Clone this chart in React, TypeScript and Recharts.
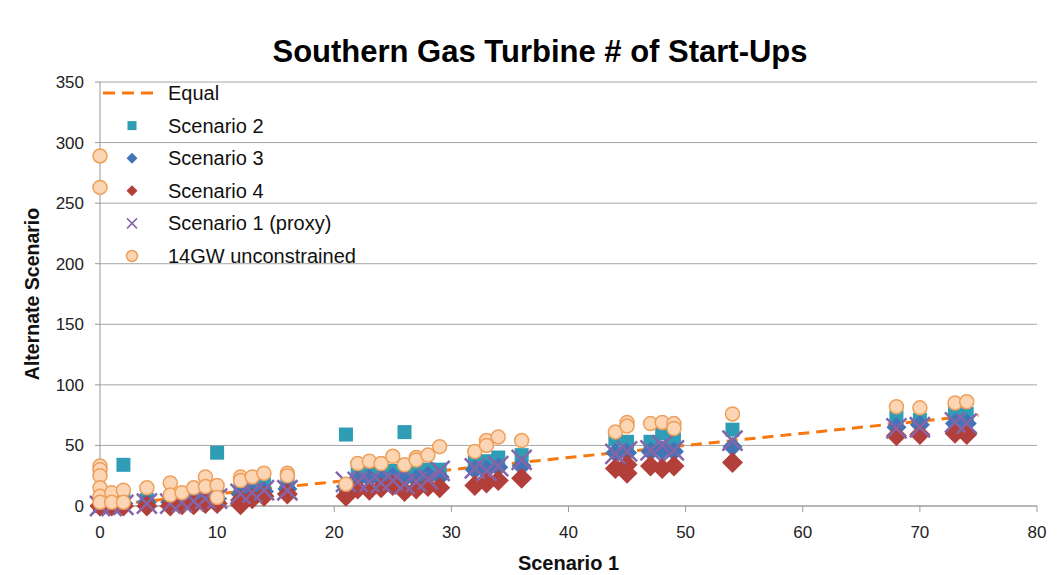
import React from "react";
import {
  ScatterChart,
  Scatter,
  XAxis,
  YAxis,
  CartesianGrid,
  Legend,
  Label,
} from "recharts";

type Pt = [number, number];

const FONT = '"Liberation Sans", Arial, sans-serif';

const xTicks = [0, 10, 20, 30, 40, 50, 60, 70, 80];
const yTicks = [0, 50, 100, 150, 200, 250, 300, 350];

// [Scenario 1, alternate scenario] start-ups per unit
const equalLine: Pt[] = [[0, 0], [75, 75]];

const scenario2: Pt[] = [
  [0, 0], [0, 2], [1, 2], [2, 34], [2, 5], [4, 5], [6, 6], [7, 6], [8, 8], [9, 9],
  [10, 44], [10, 8], [12, 16], [13, 17], [14, 18], [16, 20],
  [21, 59], [21, 14], [22, 27], [23, 28], [24, 28], [25, 29], [26, 61], [26, 27],
  [27, 28], [28, 30], [29, 30], [32, 36], [33, 37], [34, 40], [36, 42],
  [44, 55], [45, 53], [47, 53], [48, 60], [49, 55], [54, 63],
  [68, 73], [70, 71], [73, 77], [74, 76],
];

const scenario3: Pt[] = [
  [0, 0], [1, 2], [2, 2], [4, 3], [6, 3], [7, 4], [8, 5], [9, 5], [10, 6],
  [12, 10], [13, 11], [14, 12], [16, 14],
  [21, 16], [22, 22], [23, 23], [24, 22], [25, 24], [26, 23], [27, 22], [28, 25], [29, 24],
  [32, 30], [33, 30], [34, 32], [36, 33],
  [44, 44], [45, 44], [47, 45], [48, 46], [49, 45], [54, 49],
  [68, 65], [70, 67], [73, 68], [74, 68],
];

const scenario4: Pt[] = [
  [0, 0], [1, 0], [2, 0], [4, 0], [6, 0], [7, 1], [8, 1], [9, 2], [10, 2],
  [12, 1], [12, 5], [13, 6], [14, 8], [16, 10],
  [21, 8], [22, 14], [23, 13], [24, 15], [25, 17], [26, 12], [27, 14], [28, 16], [29, 15],
  [32, 17], [33, 19], [34, 21], [36, 23],
  [44, 31], [45, 27], [45, 34], [47, 33], [48, 31], [49, 33], [54, 36],
  [68, 58], [70, 59], [73, 60], [74, 59],
];

const scenario1Proxy: Pt[] = [
  [0, 0], [1, 0], [2, 1], [4, 2], [6, 2], [7, 3], [8, 4], [9, 6], [10, 6],
  [12, 10], [13, 11], [14, 13], [16, 13],
  [21, 20], [22, 20], [23, 20], [24, 19], [25, 21], [26, 18], [27, 20], [28, 22], [29, 29],
  [32, 31], [33, 29], [34, 33], [36, 38],
  [44, 43], [45, 45], [47, 46], [48, 50], [49, 46], [54, 54],
  [68, 64], [70, 65], [73, 69], [74, 68],
];

const unconstrained14GW: Pt[] = [
  [0, 289], [0, 263], [0, 33], [0, 30], [0, 25], [0, 15], [0, 8], [0, 3],
  [1, 11], [1, 3], [2, 13], [2, 3], [4, 15], [6, 19], [6, 9], [7, 11], [8, 15],
  [9, 24], [9, 16], [10, 17], [10, 7], [12, 24], [12, 21], [13, 24], [14, 27],
  [16, 27], [16, 25],
  [21, 18], [22, 35], [23, 37], [24, 35], [25, 41], [26, 34], [27, 40], [27, 38],
  [28, 42], [29, 49], [32, 45], [33, 54], [33, 50], [34, 57], [36, 54],
  [44, 61], [45, 69], [45, 66], [47, 68], [48, 69], [49, 68], [49, 64], [54, 76],
  [68, 82], [70, 81], [73, 85], [74, 86],
];

const toPts = (arr: Pt[]) => arr.map(([x, y]) => ({ x, y }));

const COLORS = {
  equal: "#f7780f",
  s2: "#2f9db6",
  s3: "#4175b8",
  s4: "#b33f3a",
  s1: "#8466a8",
  gwFill: "#fcd5b5",
  gwStroke: "#eea05a",
  grid: "#a6a6a6",
};

const squareShape = (s: number, fill: string) => (p: any) => (
  <rect x={p.cx - s / 2} y={p.cy - s / 2} width={s} height={s} fill={fill} />
);

const diamondShape = (s: number, fill: string) => (p: any) => (
  <polygon
    points={`${p.cx},${p.cy - s / 2} ${p.cx + s / 2},${p.cy} ${p.cx},${p.cy + s / 2} ${p.cx - s / 2},${p.cy}`}
    fill={fill}
  />
);

const crossShape = (s: number, stroke: string, w: number) => (p: any) => (
  <path
    d={`M${p.cx - s / 2},${p.cy - s / 2}L${p.cx + s / 2},${p.cy + s / 2}M${p.cx + s / 2},${p.cy - s / 2}L${p.cx - s / 2},${p.cy + s / 2}`}
    stroke={stroke}
    strokeWidth={w}
    fill="none"
  />
);

const circleShape = (r: number) => (p: any) => (
  <circle
    cx={p.cx}
    cy={p.cy}
    r={r}
    fill={COLORS.gwFill}
    stroke={COLORS.gwStroke}
    strokeWidth={1.5}
  />
);

const legendNames = [
  "Equal",
  "Scenario 2",
  "Scenario 3",
  "Scenario 4",
  "Scenario 1 (proxy)",
  "14GW unconstrained",
];

const renderLegend = () => {
  const icons = [
    (y: number) => (
      <line x1={3} x2={53} y1={y} y2={y} stroke={COLORS.equal} strokeWidth={3} strokeDasharray="12 7" />
    ),
    (y: number) => squareShape(9, COLORS.s2)({ cx: 32, cy: y }),
    (y: number) => diamondShape(11, COLORS.s3)({ cx: 32, cy: y }),
    (y: number) => diamondShape(11, COLORS.s4)({ cx: 32, cy: y }),
    (y: number) => crossShape(10, COLORS.s1, 1.5)({ cx: 32, cy: y }),
    (y: number) => circleShape(5.5)({ cx: 32, cy: y }),
  ];
  return (
    <svg width={300} height={200}>
      {legendNames.map((name, i) => {
        const y = 17 + i * 32.6;
        return (
          <g key={name}>
            {icons[i](y)}
            <text
              x={68}
              y={y}
              dy="0.35em"
              fontSize={20}
              fontFamily={FONT}
              fill="#111"
            >
              {name}
            </text>
          </g>
        );
      })}
    </svg>
  );
};

export default function App() {
  return (
    <div
      style={{
        position: "absolute",
        left: 0,
        top: 0,
        width: 1063,
        height: 575,
        background: "#fff",
        fontFamily: FONT,
      }}
    >
      <div
        style={{
          position: "absolute",
          left: 0,
          top: 36,
          width: 1080,
          textAlign: "center",
          fontSize: 31,
          lineHeight: "31px",
          fontWeight: "bold",
          color: "#000",
        }}
      >
        Southern Gas Turbine # of Start-Ups
      </div>
      <ScatterChart
        width={1063}
        height={575}
        margin={{ top: 82, right: 26, bottom: 39, left: 40 }}
      >
        <CartesianGrid vertical={false} stroke={COLORS.grid} />
        <XAxis
          type="number"
          dataKey="x"
          domain={[0, 80]}
          ticks={xTicks}
          height={30}
          tickSize={6}
          tickMargin={14}
          stroke="#999"
          tick={{ fill: "#222", fontSize: 17, fontFamily: FONT }}
        >
          <Label
            content={(props: any) => {
              const vb = props.viewBox;
              return (
                <text
                  x={vb.x + vb.width / 2}
                  y={vb.y + 64}
                  textAnchor="middle"
                  fontSize={20}
                  fontWeight="bold"
                  fontFamily={FONT}
                  fill="#111"
                >
                  Scenario 1
                </text>
              );
            }}
          />
        </XAxis>
        <YAxis
          type="number"
          dataKey="y"
          domain={[0, 350]}
          ticks={yTicks}
          width={60}
          tickSize={5}
          tickMargin={11}
          stroke="#999"
          tick={{ fill: "#222", fontSize: 17, fontFamily: FONT }}
        >
          <Label
            content={(props: any) => {
              const vb = props.viewBox;
              const x = vb.x - 8;
              const y = vb.y + vb.height / 2;
              return (
                <text
                  x={x}
                  y={y}
                  transform={`rotate(-90 ${x} ${y})`}
                  textAnchor="middle"
                  dominantBaseline="central"
                  fontSize={19.5}
                  fontWeight="bold"
                  fontFamily={FONT}
                  fill="#111"
                >
                  Alternate Scenario
                </text>
              );
            }}
          />
        </YAxis>
        <Legend
          layout="vertical"
          align="center"
          verticalAlign="middle"
          width={300}
          wrapperStyle={{ left: 100, top: 76, width: 300 }}
          content={renderLegend}
        />
        <Scatter
          name="Equal"
          data={toPts(equalLine)}
          line={{ stroke: COLORS.equal, strokeWidth: 3, strokeDasharray: "11 7" }}
          shape={() => <g />}
          isAnimationActive={false}
        />
        <Scatter
          name="Scenario 2"
          data={toPts(scenario2)}
          shape={squareShape(14, COLORS.s2)}
          isAnimationActive={false}
        />
        <Scatter
          name="Scenario 3"
          data={toPts(scenario3)}
          shape={diamondShape(20, COLORS.s3)}
          isAnimationActive={false}
        />
        <Scatter
          name="Scenario 4"
          data={toPts(scenario4)}
          shape={diamondShape(21, COLORS.s4)}
          isAnimationActive={false}
        />
        <Scatter
          name="Scenario 1 (proxy)"
          data={toPts(scenario1Proxy)}
          shape={crossShape(20, COLORS.s1, 2.5)}
          isAnimationActive={false}
        />
        <Scatter
          name="14GW unconstrained"
          data={toPts(unconstrained14GW)}
          shape={circleShape(7)}
          isAnimationActive={false}
        />
      </ScatterChart>
    </div>
  );
}
